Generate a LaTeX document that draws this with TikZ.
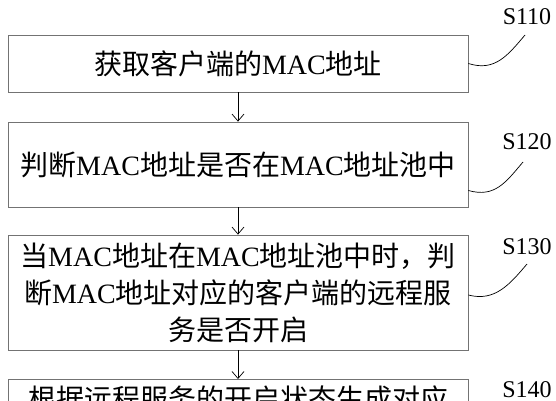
\documentclass[tikz,border=0pt]{standalone}
\usepackage{fontspec}
\setmainfont{Liberation Serif}
\newfontfamily\cjk{Noto Sans CJK SC}
\usepackage{tikz}
\usetikzlibrary{arrows.meta,calc,positioning}
\newcommand{\mac}{{\rmfamily MAC}}

\begin{document}
\begin{tikzpicture}[x=1pt,y=-1pt,
	box/.style={draw=black!55,line width=0.8pt,minimum width=460pt,inner sep=0pt,align=center,font=\cjk\fontsize{28}{37}\selectfont},
	arr/.style={-{Straight Barb[length=7pt,width=12pt]},line width=0.7pt},
	lab/.style={inner sep=0pt,font=\fontsize{24}{24}\selectfont}]
	\useasboundingbox (0,0) rectangle (556,400);
	\clip (0,0) rectangle (556,400);
	% steps
	\node[box,minimum height=57pt] (s110) at (238,63.5) {获取客户端的\mac{}地址};
	\node[box,minimum height=85pt] (s120) at (238,164.5) {判断\mac{}地址是否在\mac{}地址池中};
	\node[box,minimum height=115pt] (s130) at (238,292.5) {当\mac{}地址在\mac{}地址池中时，判\\断\mac{}地址对应的客户端的远程服\\务是否开启};
	\node[box,minimum height=115pt,anchor=north] (s140) at (238,379) {};
	\node[inner sep=0pt,font=\cjk\fontsize{28}{37}\selectfont] (t140) at (238,399) {根据远程服务的开启状态生成对应};
	\draw[arr] (s110) -- (s120);
	\draw[arr] (s120) -- (s130);
	\draw[arr] (s130) -- (s140);
	% labels
	\node[lab] (l110) at (527,17) {S110};
	\node[lab] (l120) at (527,142) {S120};
	\node[lab] (l130) at (527,246.5) {S130};
	\node[lab] (l140) at (527,390) {S140};
	\coordinate (e110) at (525,35);
	\coordinate (e120) at (523,162);
	\coordinate (e130) at (527,264);
	\draw[line width=0.7pt] (s110.east) .. controls (495,72) and (508,55) .. (e110);
	\draw[line width=0.7pt] ($(s120.east)+(0,26)$) .. controls (495,198) and (506,182) .. (e120);
	\draw[line width=0.7pt] ($(s130.east)+(0,2.5)$) .. controls (495,302) and (510,284) .. (e130);
\end{tikzpicture}
\end{document}
